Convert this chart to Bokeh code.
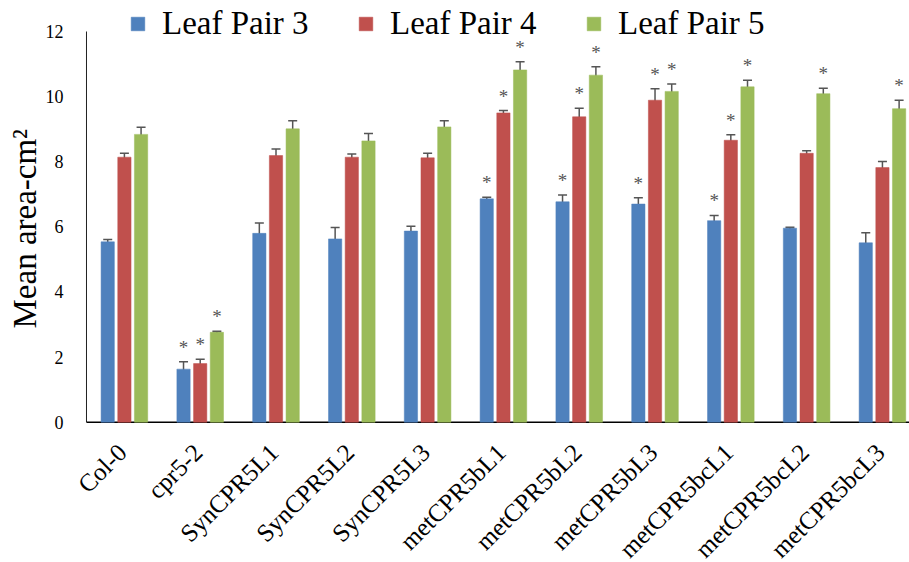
from bokeh.plotting import figure
from bokeh.models import (ColumnDataSource, Range1d, FixedTicker, Legend, LegendItem,
                          Whisker, TeeHead, LabelSet, Title)
from bokeh.embed import file_html
from bokeh.resources import INLINE
from math import pi

# Plant lines and mean leaf area (cm^2) per leaf pair, with standard errors
lines = ["Col-0", "cpr5-2", "SynCPR5L1", "SynCPR5L2", "SynCPR5L3", "metCPR5bL1",
         "metCPR5bL2", "metCPR5bL3", "metCPR5bcL1", "metCPR5bcL2", "metCPR5bcL3"]

pair3 = [5.54, 1.63, 5.80, 5.63, 5.87, 6.86, 6.77, 6.70, 6.19, 5.96, 5.51]
pair3_err = [0.07, 0.23, 0.32, 0.35, 0.15, 0.05, 0.21, 0.19, 0.16, 0.03, 0.31]
pair4 = [8.14, 1.80, 8.19, 8.14, 8.12, 9.50, 9.38, 9.89, 8.66, 8.26, 7.82]
pair4_err = [0.12, 0.13, 0.20, 0.10, 0.14, 0.07, 0.26, 0.35, 0.17, 0.08, 0.19]
pair5 = [8.84, 2.76, 9.01, 8.64, 9.07, 10.82, 10.66, 10.16, 10.30, 10.09, 9.63]
pair5_err = [0.22, 0.03, 0.25, 0.23, 0.19, 0.25, 0.26, 0.23, 0.20, 0.17, 0.26]

# significant difference from Col-0
sig3 = [0, 1, 0, 0, 0, 1, 1, 1, 1, 0, 0]
sig4 = [0, 1, 0, 0, 0, 1, 1, 1, 1, 0, 0]
sig5 = [0, 1, 0, 0, 0, 1, 1, 1, 1, 1, 1]

y_ticks = [0, 2, 4, 6, 8, 10, 12]

series = [
    ("Leaf Pair 3", pair3, pair3_err, sig3, "#4F81BD", -0.22),
    ("Leaf Pair 4", pair4, pair4_err, sig4, "#C0504D", 0.0),
    ("Leaf Pair 5", pair5, pair5_err, sig5, "#9BBB59", 0.22),
]

SERIF = "Liberation Serif"
ERR_COLOR = "#555555"
X_START, X_END = -0.6055, 10.357

# The frame covers the full height so that the legend and the rotated
# category names can sit inside it; the value axis runs from 0 to 12.
p = figure(width=909, height=562, output_backend="svg", toolbar_location=None,
           x_range=Range1d(X_START, X_END), y_range=Range1d(-4.309, 12.952),
           min_border_left=78, min_border_right=0, min_border_top=0,
           min_border_bottom=0, outline_line_color=None)
p.grid.visible = False
p.xaxis.visible = False

n = len(lines)

# value axis line (0..12) and category axis line
p.segment(x0=[-0.5], y0=[y_ticks[0]], x1=[-0.5], y1=[y_ticks[-1]],
          line_color="#222222", line_width=1)
p.segment(x0=[-0.5], y0=[0], x1=[X_END], y1=[0], line_color="black", line_width=1.5)

items = []
for name, vals, errs, sig, color, off in series:
    xs = [i + off for i in range(n)]
    src = ColumnDataSource(dict(
        x=xs, top=vals,
        upper=[v + e for v, e in zip(vals, errs)],
        lower=[v - e for v, e in zip(vals, errs)],
    ))
    r = p.vbar(x="x", top="top", width=0.175, source=src, fill_color=color,
               line_color=color, line_alpha=0.5)
    items.append(LegendItem(label=name, renderers=[r]))
    p.add_layout(Whisker(source=src, base="x", upper="upper", lower="lower",
                         line_color=ERR_COLOR, line_width=1.5,
                         upper_head=TeeHead(size=9, line_color=ERR_COLOR, line_width=1.5),
                         lower_head=TeeHead(size=9, line_color=ERR_COLOR, line_width=1.5)))
    stars = ColumnDataSource(dict(
        x=[x for x, s in zip(xs, sig) if s],
        y=[v + e for v, e, s in zip(vals, errs, sig) if s],
        t=["*" for s in sig if s],
    ))
    p.add_layout(LabelSet(x="x", y="y", text="t", source=stars, y_offset=8,
                          text_align="center", text_baseline="alphabetic",
                          text_font=SERIF, text_font_size="19px", text_color=ERR_COLOR))

legend = Legend(items=items, orientation="horizontal", location=(51, 520),
                glyph_width=17, glyph_height=17, label_standoff=16, label_width=148,
                spacing=47, padding=0, margin=0, border_line_color=None,
                background_fill_alpha=0, label_text_font=SERIF,
                label_text_font_size="33px", label_text_color="black")
p.add_layout(legend, "center")

# category names, rotated 45 degrees below the axis line
names = ColumnDataSource(dict(x=list(range(n)), y=[0] * n, t=lines))
p.add_layout(LabelSet(x="x", y="y", text="t", source=names, angle=pi / 4,
                      x_offset=4, y_offset=-32, text_align="right",
                      text_baseline="alphabetic", text_font=SERIF,
                      text_font_size="25px", text_color="black"))

# y axis
p.yaxis.ticker = FixedTicker(ticks=y_ticks)
p.yaxis.major_tick_line_color = None
p.yaxis.minor_tick_line_color = None
p.yaxis.axis_line_color = None
p.yaxis.major_label_text_font = SERIF
p.yaxis.major_label_text_font_size = "18px"
p.yaxis.major_label_text_color = "black"
p.yaxis.major_label_standoff = 9

p.add_layout(Title(text="Mean area-cm²", align="left", offset=234,
                   text_font=SERIF, text_font_size="33px", text_font_style="normal",
                   text_color="black", standoff=0), "left")

open("out.html", "w").write(file_html(p, INLINE))
